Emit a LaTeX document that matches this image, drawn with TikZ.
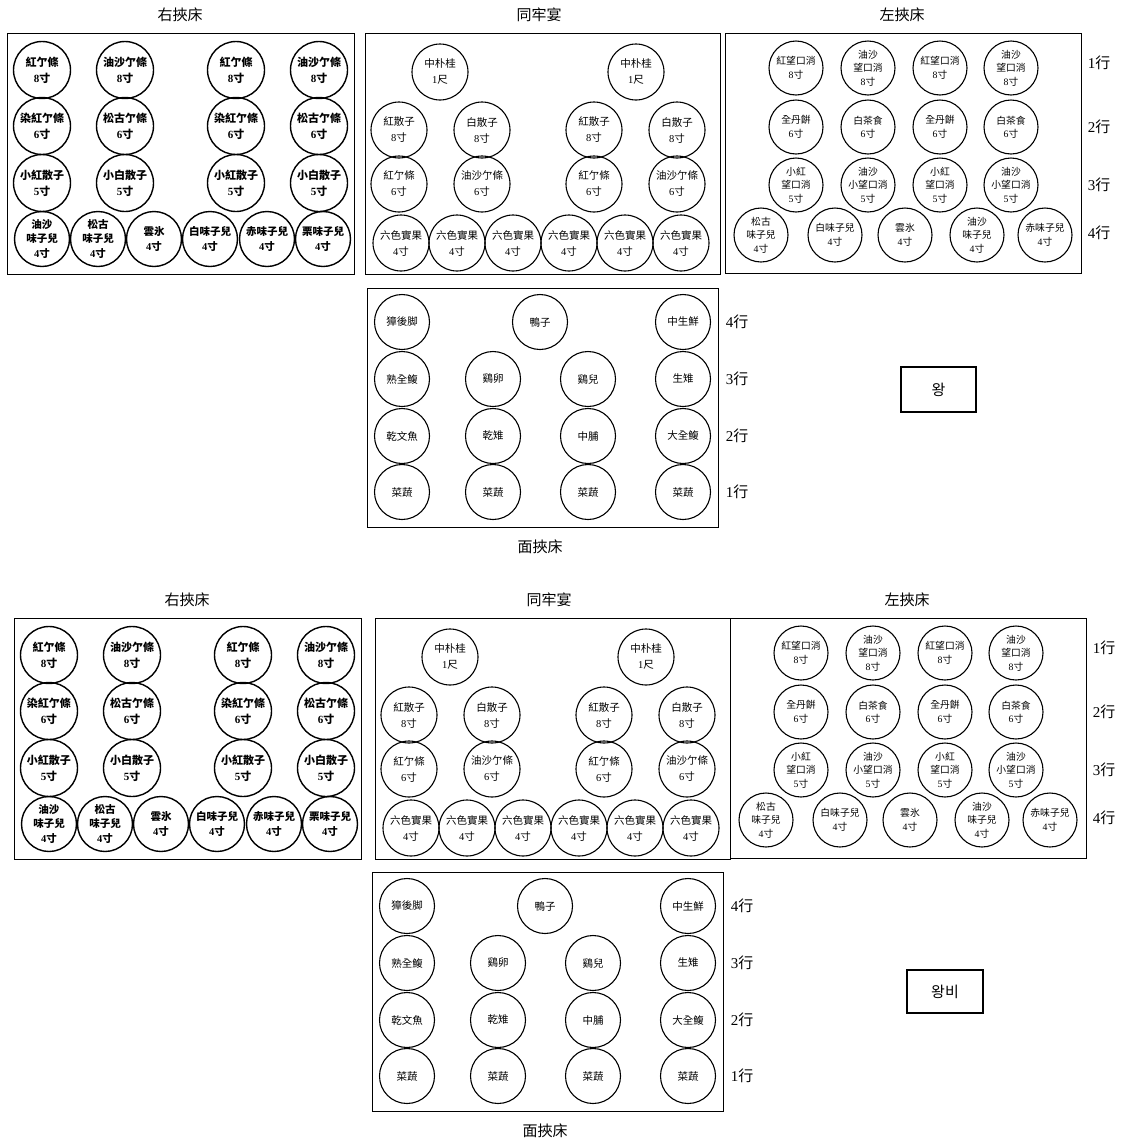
\documentclass[tikz,border=0pt]{standalone}
\usepackage{fontspec}
\setmainfont{Liberation Serif}
\newfontfamily\cjk{Noto Sans CJK TC}
\newfontfamily\kor{Noto Sans CJK KR}
\newcommand\cun[1]{{\rmfamily#1}寸}
\newcommand\chk[1]{{\rmfamily#1}尺}
\newcommand\hang[1]{{\rmfamily#1}行}
\tikzset{
  dishbase/.style={circle, draw, inner sep=0pt, align=center},
  dishA/.style={dishbase, line width=1.4pt, minimum size=57pt, font=\cjk\bfseries\fontsize{11}{16}\selectfont},
  dishA4/.style={dishA, minimum size=55pt, font=\cjk\bfseries\fontsize{10.5}{14.5}\selectfont},
  dishT/.style={dishbase, line width=1.1pt, minimum size=56pt, font=\cjk\fontsize{10.5}{16}\selectfont},
  dishL/.style={dishbase, line width=1.1pt, minimum size=54pt, font=\cjk\fontsize{9.8}{13.5}\selectfont},
  dishM/.style={dishbase, line width=1.1pt, minimum size=55pt, font=\cjk\fontsize{10.5}{12}\selectfont},
  panel/.style={draw, line width=1.2pt, anchor=north west, inner sep=0pt},
  ttl/.style={font=\cjk\fontsize{15}{15}\selectfont},
  rowlab/.style={font=\cjk\fontsize{15}{15}\selectfont},
  whobox/.style={draw, line width=1.2pt, inner sep=0pt, font=\kor\fontsize{15}{15}\selectfont},
}
\newcommand\RightPanel[3]{%
\begin{scope}[shift={(#2,#3)}]
\node[ttl] (#1title) at (173,-18) {右挾床};
\node[panel, minimum width=347pt, minimum height=241pt] (#1box) at (0,0) {};
\node[dishA] (#1a1) at (35,37) {紅亇條\\\cun8};
\node[dishA] (#1a2) at (118,37) {油沙亇條\\\cun8};
\node[dishA] (#1a3) at (229,37) {紅亇條\\\cun8};
\node[dishA] (#1a4) at (312,37) {油沙亇條\\\cun8};
\node[dishA] (#1b1) at (35,93) {染紅亇條\\\cun6};
\node[dishA] (#1b2) at (118,93) {松古亇條\\\cun6};
\node[dishA] (#1b3) at (229,93) {染紅亇條\\\cun6};
\node[dishA] (#1b4) at (312,93) {松古亇條\\\cun6};
\node[dishA] (#1c1) at (35,150) {小紅散子\\\cun5};
\node[dishA] (#1c2) at (118,150) {小白散子\\\cun5};
\node[dishA] (#1c3) at (229,150) {小紅散子\\\cun5};
\node[dishA] (#1c4) at (312,150) {小白散子\\\cun5};
\node[dishA4] (#1d1) at (35,206) {油沙\\味子兒\\\cun4};
\node[dishA4] (#1d2) at (91,206) {松古\\味子兒\\\cun4};
\node[dishA4] (#1d3) at (147,206) {雲氷\\\cun4};
\node[dishA4] (#1d4) at (203,206) {白味子兒\\\cun4};
\node[dishA4] (#1d5) at (260,206) {赤味子兒\\\cun4};
\node[dishA4] (#1d6) at (316,206) {栗味子兒\\\cun4};
\end{scope}}
\newcommand\MidPanel[3]{%
\begin{scope}[shift={(#2,#3)}]
\node[ttl] (#1title) at (174,-18) {同牢宴};
\node[panel, minimum width=355pt, minimum height=241pt] (#1box) at (0,0) {};
\node[dishT] (#1a1) at (75,39) {中朴桂\\\chk1};
\node[dishT] (#1a2) at (271,39) {中朴桂\\\chk1};
\node[dishT] (#1b1) at (34,97) {紅散子\\\cun8};
\node[dishT] (#1b2) at (117,97) {白散子\\\cun8};
\node[dishT] (#1b3) at (229,97) {紅散子\\\cun8};
\node[dishT] (#1b4) at (312,97) {白散子\\\cun8};
\node[dishT] (#1c1) at (34,151) {紅亇條\\\cun6};
\node[dishT] (#1c2) at (117,151) {油沙亇條\\\cun6};
\node[dishT] (#1c3) at (229,151) {紅亇條\\\cun6};
\node[dishT] (#1c4) at (312,151) {油沙亇條\\\cun6};
\node[dishT] (#1d1) at (36,210) {六色實果\\\cun4};
\node[dishT] (#1d2) at (92,210) {六色實果\\\cun4};
\node[dishT] (#1d3) at (148,210) {六色實果\\\cun4};
\node[dishT] (#1d4) at (204,210) {六色實果\\\cun4};
\node[dishT] (#1d5) at (260,210) {六色實果\\\cun4};
\node[dishT] (#1d6) at (316,210) {六色實果\\\cun4};
\end{scope}}
\newcommand\LeftPanel[3]{%
\begin{scope}[shift={(#2,#3)}]
\node[ttl] (#1title) at (177,-18) {左挾床};
\node[panel, minimum width=356pt, minimum height=240pt] (#1box) at (0,0) {};
\node[dishL] (#1a1) at (71,35) {紅望口消\\\cun8};
\node[dishL] (#1a2) at (143,35) {油沙\\望口消\\\cun8};
\node[dishL] (#1a3) at (215,35) {紅望口消\\\cun8};
\node[dishL] (#1a4) at (286,35) {油沙\\望口消\\\cun8};
\node[dishL] (#1b1) at (71,94) {全丹餠\\\cun6};
\node[dishL] (#1b2) at (143,94) {白茶食\\\cun6};
\node[dishL] (#1b3) at (215,94) {全丹餠\\\cun6};
\node[dishL] (#1b4) at (286,94) {白茶食\\\cun6};
\node[dishL] (#1c1) at (71,152) {小紅\\望口消\\\cun5};
\node[dishL] (#1c2) at (143,152) {油沙\\小望口消\\\cun5};
\node[dishL] (#1c3) at (215,152) {小紅\\望口消\\\cun5};
\node[dishL] (#1c4) at (286,152) {油沙\\小望口消\\\cun5};
\node[dishL] (#1d1) at (36,202) {松古\\味子兒\\\cun4};
\node[dishL] (#1d2) at (110,202) {白味子兒\\\cun4};
\node[dishL] (#1d3) at (180,202) {雲氷\\\cun4};
\node[dishL] (#1d4) at (252,202) {油沙\\味子兒\\\cun4};
\node[dishL] (#1d5) at (320,202) {赤味子兒\\\cun4};
\node[rowlab] (#1r1) at (374,30) {\hang1};
\node[rowlab] (#1r2) at (374,94) {\hang2};
\node[rowlab] (#1r3) at (374,152) {\hang3};
\node[rowlab] (#1r4) at (374,200) {\hang4};
\end{scope}}
\newcommand\FacePanel[3]{%
\begin{scope}[shift={(#2,#3)}]
\node[panel, minimum width=351pt, minimum height=239pt] (#1box) at (0,0) {};
\node[ttl] (#1title) at (173,259) {面挾床};
\node[dishM] (#1a1) at (35,34) {獐後脚};
\node[dishM] (#1a2) at (173,34) {鴨子};
\node[dishM] (#1a3) at (316,34) {中生鮮};
\node[dishM] (#1b1) at (35,91) {熟全鰒};
\node[dishM] (#1b2) at (126,91) {鷄卵};
\node[dishM] (#1b3) at (221,91) {鷄兒};
\node[dishM] (#1b4) at (316,91) {生雉};
\node[dishM] (#1c1) at (35,148) {乾文魚};
\node[dishM] (#1c2) at (126,148) {乾雉};
\node[dishM] (#1c3) at (221,148) {中脯};
\node[dishM] (#1c4) at (316,148) {大全鰒};
\node[dishM] (#1d1) at (35,204) {菜蔬};
\node[dishM] (#1d2) at (126,204) {菜蔬};
\node[dishM] (#1d3) at (221,204) {菜蔬};
\node[dishM] (#1d4) at (316,204) {菜蔬};
\node[rowlab] (#1r4) at (370,34) {\hang4};
\node[rowlab] (#1r3) at (370,91) {\hang3};
\node[rowlab] (#1r2) at (370,148) {\hang2};
\node[rowlab] (#1r1) at (370,204) {\hang1};
\end{scope}}
\begin{document}
\begin{tikzpicture}[x=1pt, y=-1pt]
\useasboundingbox[fill=white] (0,0) rectangle (1120,1141);
% king
\RightPanel{KR}{7}{33}
\MidPanel{KT}{365}{33}
\LeftPanel{KL}{725}{33}
\FacePanel{KM}{367}{288}
\node[whobox, minimum width=75pt, minimum height=45pt] (king) at (938.5,389.5) {왕};
% queen
\RightPanel{QR}{14}{618}
\MidPanel{QT}{375}{618}
\LeftPanel{QL}{730}{618}
\FacePanel{QM}{372}{872}
\node[whobox, minimum width=76pt, minimum height=43pt] (queen) at (945,991.5) {왕비};
\end{tikzpicture}
\end{document}
